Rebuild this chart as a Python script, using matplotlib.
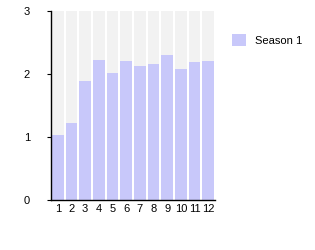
import numpy as np
import matplotlib.pyplot as plt

plt.rcParams["font.family"] = ["Liberation Sans", "DejaVu Sans"]

months = ["1", "2", "3", "4", "5", "6", "7", "8", "9", "10", "11", "12"]
season1 = [1.03, 1.22, 1.89, 2.22, 2.02, 2.21, 2.12, 2.16, 2.30, 2.08, 2.19, 2.21]
y_ticks = [0, 1, 2, 3]

fig = plt.figure(figsize=(3.15, 2.5), dpi=100)
ax = fig.add_axes([51 / 315, 50 / 250, 164 / 315, 189 / 250])

x = np.arange(len(months))
width = 0.86
# grey background columns behind each bar
ax.bar(x, [3] * len(months), width=width, color="#f2f2f2", zorder=1)
ax.bar(x, season1, width=width, color="#c8c8fa", label="Season 1", zorder=2)

ax.set_xlim(-0.5, len(months) - 0.5)
ax.set_ylim(0, 3)
ax.set_xticks(x)
ax.set_xticklabels(months, fontsize=8)
ax.set_yticks(y_ticks)
ax.set_yticklabels([str(t) for t in y_ticks], fontsize=8)
ax.tick_params(axis="x", length=0, pad=3)
ax.tick_params(axis="y", length=3, width=0.8, pad=12)
for s in ["top", "right"]:
    ax.spines[s].set_visible(False)
ax.spines["left"].set_linewidth(1)
ax.spines["bottom"].set_linewidth(1)

handles, labels = ax.get_legend_handles_labels()
fig.legend(handles[-1:], labels[-1:], loc="upper left", bbox_to_anchor=(222 / 315, 1 - 24 / 250),
           frameon=False, fontsize=8, handlelength=1.3, handleheight=1.3, handletextpad=0.8)

fig.savefig("out.png", dpi=100)
